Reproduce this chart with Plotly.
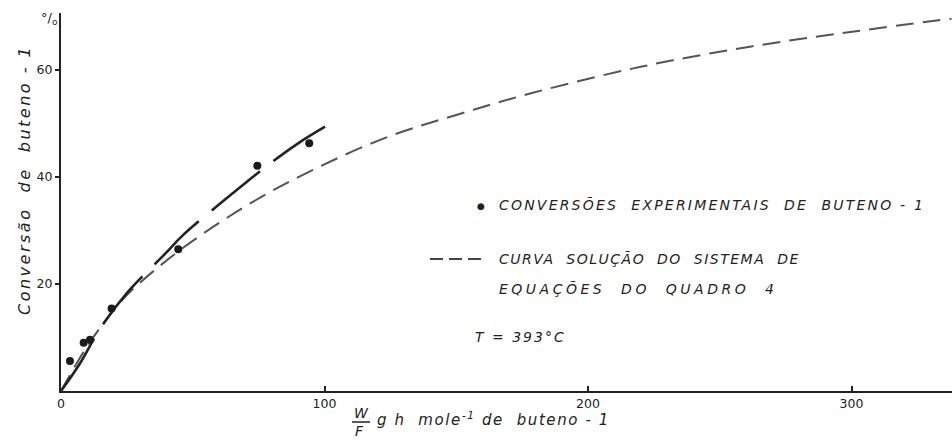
import plotly.graph_objects as go

# Experimental conversions of 1-butene (W/F, conversion %)
exp_wf = [3.4, 8.6, 11.0, 19.2, 44.5, 74.5, 94.2]
exp_conv = [5.6, 9.0, 9.6, 15.4, 26.5, 42.1, 46.3]

# Curve drawn through the experimental points
fit_wf = [0, 7, 15, 25, 40, 46, 71, 79, 90, 104]
fit_conv = [0, 5.0, 11.8, 18.3, 25.9, 29.0, 39.3, 42.4, 46.3, 50.5]

# Solution curve of the equation system (Quadro 4)
sol_wf = [0, 10, 20, 27, 47, 74, 98, 124, 150, 178, 220, 262, 301, 338]
sol_conv = [0, 8.4, 15.1, 18.9, 27.0, 35.7, 41.9, 47.5, 51.6, 55.6, 60.6, 64.4, 67.2, 69.6]

x_ticks = [0, 100, 200, 300]
y_ticks = [20, 40, 60]

W, H = 952, 440
L, R, T, B = 61, 0, 13, 49
INK = "#222222"
FONT = "DejaVu Sans"


def px(x):
    return (x - L) / (W - L - R)


def py(y):
    return (H - B - y) / (H - T - B)


def spaced(text, gap):
    return f'<span style="letter-spacing:{gap}px">{text}</span>'


fig = go.Figure()

fig.add_trace(go.Scatter(
    x=sol_wf, y=sol_conv, mode="lines", line_shape="spline",
    line=dict(color="#555555", width=2, dash="18px,9px"),
    hoverinfo="skip", showlegend=False))

fig.add_trace(go.Scatter(
    x=fit_wf, y=fit_conv, mode="lines", line_shape="spline",
    line=dict(color="#222222", width=2.6, dash="62px,17px"),
    hoverinfo="skip", showlegend=False))

fig.add_trace(go.Scatter(
    x=exp_wf, y=exp_conv, mode="markers",
    marker=dict(color="#1a1a1a", size=8),
    hoverinfo="skip", showlegend=False))


def note(x, y, text, size, xanchor="center", **kw):
    return dict(xref="paper", yref="paper", x=px(x), y=py(y),
                xanchor=xanchor, yanchor="middle", text=text,
                font=dict(family=FONT, size=size, color=INK),
                showarrow=False, **kw)


annotations = [
    # y-axis title
    note(25, 180, "<i>" + spaced("Conversão  de  buteno - 1", 2.5) + "</i>", 16,
         textangle=-90),
    # unit above the y axis
    note(49, 18, "°/<sub>o</sub>", 13),
    # x-axis title: W over F fraction
    note(361, 413, "<i>W</i>", 14),
    note(359, 431, "<i>F</i>", 14),
    note(375, 419, "<i>" + spaced("g h  mole<sup>-1</sup> de  buteno - 1", 1.6) + "</i>",
         15, xanchor="left"),
    # legend entries
    note(481, 206, "●", 9),
    note(497, 205, "<i>" + spaced("CONVERSÕES  EXPERIMENTAIS  DE  BUTENO - 1", 2.2) + "</i>",
         14, xanchor="left"),
    note(497, 259, "<i>" + spaced("CURVA  SOLUÇÃO  DO  SISTEMA  DE", 1.5) + "</i>",
         14, xanchor="left"),
    note(497, 289, "<i>" + spaced("EQUAÇÕES  DO  QUADRO  4", 3.5) + "</i>",
         14, xanchor="left"),
    note(473, 337, "<i>" + spaced("T = 393°C", 2.0) + "</i>", 14, xanchor="left"),
]
fig.update_layout(annotations=annotations)

shapes = [
    # fraction bar
    dict(type="line", xref="paper", yref="paper",
         x0=px(352), x1=px(370), y0=py(422), y1=py(422),
         line=dict(color=INK, width=1.5)),
    # dashed legend sample
    dict(type="line", xref="paper", yref="paper",
         x0=px(430), x1=px(481), y0=py(259), y1=py(259),
         line=dict(color="#444444", width=2, dash="13px,6px")),
]
fig.update_layout(shapes=shapes)

fig.update_xaxes(
    range=[0, (W - L - R) / 2.635], tickvals=x_ticks,
    ticks="inside", ticklen=5, tickwidth=1.5, tickcolor=INK,
    showline=True, linecolor=INK, linewidth=2,
    showgrid=False, zeroline=False,
    tickfont=dict(family=FONT, size=12.5, color=INK))
fig.update_yaxes(
    range=[0, (H - T - B) / 5.35], tickvals=y_ticks,
    ticks="outside", ticklen=4, tickwidth=1.5, tickcolor=INK,
    showline=True, linecolor=INK, linewidth=2,
    showgrid=False, zeroline=False,
    tickfont=dict(family=FONT, size=12.5, color=INK))

fig.update_layout(
    width=W, height=H,
    margin=dict(l=L, r=R, t=T, b=B),
    paper_bgcolor="white", plot_bgcolor="white",
)

fig.write_html("out.html")
